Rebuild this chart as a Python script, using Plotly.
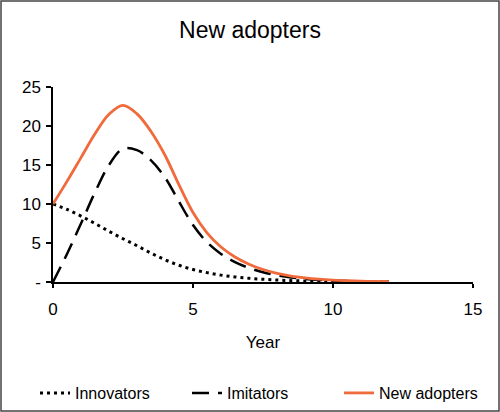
import plotly.graph_objects as go

# values (half-year steps)
years = [0, 0.5, 1, 1.5, 2, 2.5, 3, 3.5, 4, 4.5, 5, 5.5, 6, 6.5, 7, 7.5, 8,
         8.5, 9, 9.5, 10, 10.5, 11, 11.5, 12]
innovators = [10, 9.3, 8.45, 7.5, 6.5, 5.55, 4.65, 3.7, 2.85, 2.15, 1.6, 1.2, 0.88,
              0.65, 0.48, 0.35, 0.25, 0.18, 0.13, 0.09, 0.06, 0.045, 0.03, 0.02, 0.015]
imitators = [0, 3.6, 7.5, 11.5, 15.0, 17.1, 16.9, 15.6, 13.4, 10.3, 7.3, 5.1, 3.6,
             2.55, 1.8, 1.25, 0.85, 0.58, 0.4, 0.27, 0.18, 0.12, 0.08, 0.05, 0.03]
new_adopters = [10, 12.9, 15.95, 19.0, 21.5, 22.65, 21.55, 19.3, 16.25, 12.45, 8.9,
                6.3, 4.48, 3.2, 2.28, 1.6, 1.1, 0.76, 0.53, 0.36, 0.24, 0.165, 0.11,
                0.07, 0.045]

ytick_vals = [0, 5, 10, 15, 20, 25]
ytick_text = ["-", "5", "10", "15", "20", "25"]

W, H = 500, 412
ML, MR, MT, MB = 53, 27, 87, 130
PW, PH = W - ML - MR, H - MT - MB

fig = go.Figure()
fig.add_trace(go.Scatter(x=years, y=innovators, name="Innovators", mode="lines",
                         line=dict(color="black", width=3, dash="3px,4px", shape="spline")))
fig.add_trace(go.Scatter(x=years, y=imitators, name="Imitators", mode="lines",
                         line=dict(color="black", width=2.5, dash="17px,9px", shape="spline")))
fig.add_trace(go.Scatter(x=years, y=new_adopters, name="New adopters", mode="lines",
                         line=dict(color="#F06A3C", width=2.8, shape="spline")))

fig.update_layout(
    width=W, height=H,
    margin=dict(l=ML, r=MR, t=MT, b=MB, autoexpand=False),
    paper_bgcolor="white", plot_bgcolor="white",
    font=dict(family="Liberation Sans, Arial, sans-serif", color="black", size=17),
    title=dict(text="New adopters", x=0.5, xanchor="center", y=1 - 30 / H,
               yanchor="middle", yref="container", font=dict(size=23)),
    showlegend=True,
    legend=dict(orientation="h", x=(35 - ML) / PW, xanchor="left",
                y=-(393 - (MT + PH)) / PH, yanchor="middle",
                entrywidth=107, font=dict(size=16), bgcolor="rgba(0,0,0,0)"),
)
fig.update_xaxes(range=[0, 15], tickvals=[0, 5, 10, 15], showgrid=False, zeroline=False,
                 showline=True, linecolor="black", linewidth=1.5, automargin=False,
                 ticks="outside", ticklen=4, tickcolor="black", tickwidth=1.5,
                 ticklabelstandoff=7,
                 title=dict(text="Year", standoff=18, font=dict(size=17)))
fig.update_yaxes(range=[0, 25], tickvals=ytick_vals, ticktext=ytick_text, showgrid=False,
                 zeroline=False, showline=True, linecolor="black", linewidth=1.5,
                 automargin=False, ticks="outside", ticklen=5, tickcolor="black",
                 tickwidth=1.5, ticklabelstandoff=2)

# frame around the whole figure
fig.add_shape(type="rect", xref="paper", yref="paper",
              x0=-(ML - 1) / PW, x1=1 + (MR - 1) / PW,
              y0=-(MB - 1) / PH, y1=1 + (MT - 1) / PH,
              line=dict(color="#444444", width=1.5))

# page body has a default margin; drop it so the figure fills the window
fig.write_html("out.html", config={"displayModeBar": False},
               post_script="document.body.style.margin='0';")
